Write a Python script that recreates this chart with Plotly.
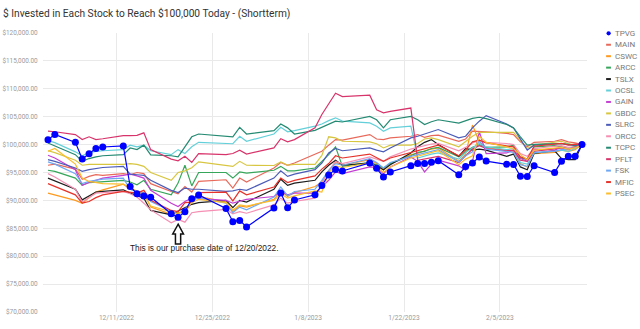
import plotly.graph_objects as go

# Trading days covered by the chart
dates = [
    "2022-12-01", "2022-12-02", "2022-12-05", "2022-12-06", "2022-12-07", "2022-12-08", "2022-12-09",
    "2022-12-12", "2022-12-13", "2022-12-14", "2022-12-15", "2022-12-16",
    "2022-12-19", "2022-12-20", "2022-12-21", "2022-12-22", "2022-12-23",
    "2022-12-27", "2022-12-28", "2022-12-29", "2022-12-30",
    "2023-01-03", "2023-01-04", "2023-01-05", "2023-01-06",
    "2023-01-09", "2023-01-10", "2023-01-11", "2023-01-12", "2023-01-13",
    "2023-01-17", "2023-01-18", "2023-01-19", "2023-01-20",
    "2023-01-23", "2023-01-24", "2023-01-25", "2023-01-26", "2023-01-27",
    "2023-01-30", "2023-01-31",
    "2023-02-01", "2023-02-02", "2023-02-03",
    "2023-02-06", "2023-02-07", "2023-02-08", "2023-02-09", "2023-02-10",
    "2023-02-13", "2023-02-14", "2023-02-15", "2023-02-16", "2023-02-17",
]

# Dollars (in thousands) needed on each day to be worth $100,000 on 2/17/2023
TPVG = [100.88, 101.83, 100.40, 97.42, 98.37, 99.32, 99.57,
        99.75, 92.49, 91.20, 90.79, 90.58,
        87.62, 86.96, 87.98, 90.31, 90.97,
        88.57, 86.19, 86.42, 85.24,
        88.64, 91.33, 88.69, 90.07,
        91.02, 92.67, 94.57, 95.56, 95.27,
        96.72, 95.74, 94.20, 95.09,
        96.22, 96.63, 96.62, 96.83, 97.12,
        94.61, 96.06,
        96.72, 97.78, 97.05,
        96.46, 96.44, 94.34, 94.29, 96.22,
        95.00, 97.01, 97.92, 97.92, 100.00]
MAIN = [96.3, 96.5, 95.6, 93.8, 94.3, 94.6, 94.5,
        94.8, 94.6, 95.0, 94.8, 93.0,
        91.6, 91.2, 92.5, 91.5, 93.4,
        93.7, 92.2, 94.0, 93.3,
        95.8, 96.8, 96.3, 96.7,
        98.2, 98.8, 99.9, 100.9, 100.8,
        101.8, 101.0, 100.9, 101.2,
        101.5, 101.8, 101.3, 101.6, 101.7,
        100.6, 101.0,
        102.4, 102.4, 102.3,
        102.0, 101.8, 100.5, 99.6, 100.4,
        100.6, 100.9, 100.5, 100.3, 100.0]
CSWC = [91.3, 91.0, 90.0, 89.5, 90.5, 91.5, 91.9,
        92.9, 92.0, 91.6, 91.3, 88.8,
        87.5, 87.9, 87.7, 89.8, 90.7,
        89.7, 88.0, 89.0, 88.8,
        90.2, 91.7, 90.7, 91.4,
        92.5, 93.3, 95.3, 96.8, 96.3,
        97.3, 96.6, 95.4, 96.6,
        98.2, 98.4, 98.9, 99.2, 99.4,
        97.0, 98.3,
        103.5, 100.5, 99.5,
        99.0, 98.8, 96.6, 96.0, 98.4,
        98.6, 99.0, 98.8, 99.1, 100.0]
ARCC = [95.4, 95.2, 94.0, 92.7, 93.2, 93.3, 93.4,
        93.6, 93.3, 92.8, 93.6, 92.0,
        91.0, 93.1, 96.3, 92.6, 95.0,
        95.0, 94.0, 95.1, 94.9,
        95.4, 96.1, 95.3, 95.3,
        95.8, 97.0, 98.2, 99.6, 96.1,
        96.8, 96.4, 95.8, 96.6,
        98.0, 98.6, 98.8, 99.3, 99.5,
        97.8, 98.7,
        99.5, 100.0, 99.5,
        99.6, 99.9, 97.6, 97.3, 99.6,
        99.8, 99.6, 99.3, 99.7, 100.0]
TSLX = [94.0, 93.5, 92.0, 90.1, 90.8, 91.5, 91.6,
        91.9, 91.3, 90.8, 90.4, 88.2,
        87.4, 88.1, 88.7, 89.3, 89.6,
        90.0, 88.7, 90.0, 89.7,
        92.0, 93.8, 92.7, 93.1,
        93.6, 95.1, 96.3, 97.2, 96.3,
        96.7, 96.2, 95.5, 96.4,
        98.5, 99.6, 100.4, 100.9, 100.0,
        97.9, 99.3,
        99.0, 99.2, 99.0,
        97.9, 98.3, 96.0, 95.5, 98.4,
        98.9, 97.5, 97.3, 97.3, 100.0]
OCSL = [100.7, 100.35, 98.7, 98.0, 98.55, 98.8, 98.9,
        99.1, 99.9, 99.6, 99.9, 98.9,
        98.2, 99.1, 98.4, 99.6, 100.4,
        100.3, 100.15, 101.5, 100.6,
        101.9, 103.1, 102.3, 102.5,
        103.3, 103.7, 104.3, 104.8, 104.2,
        103.9, 103.3, 102.4, 103.0,
        103.3, 97.6, 98.0, 98.3, 98.5,
        97.4, 98.6,
        99.4, 100.2, 99.6,
        99.1, 99.3, 96.8, 96.5, 98.5,
        98.9, 99.0, 98.8, 99.3, 100.0]
GAIN = [98.1, 97.6, 95.5, 92.7, 93.2, 93.6, 94.0,
        94.5, 94.7, 94.4, 94.0, 91.8,
        89.5, 88.9, 89.8, 90.4, 90.3,
        90.0, 89.5, 89.9, 90.2,
        90.7, 91.6, 91.0, 91.3,
        91.3, 92.5, 93.6, 95.1, 94.8,
        96.0, 95.9, 94.8, 96.0,
        97.8, 97.0, 95.1, 96.5, 97.2,
        96.2, 95.4,
        97.0, 102.3, 98.4,
        98.5, 99.0, 97.5, 97.0, 99.2,
        99.0, 99.5, 99.3, 99.6, 100.0]
GBDC = [98.9, 98.55, 97.2, 96.3, 96.45, 96.45, 96.5,
        96.45, 96.6, 96.45, 96.1, 95.0,
        93.6, 95.0, 95.3, 95.85, 96.9,
        96.3, 96.1, 97.0, 96.3,
        96.25, 96.9, 96.3, 96.45,
        96.45, 98.05, 101.4, 101.2, 100.6,
        100.5, 100.15, 99.4, 99.9,
        99.9, 100.2, 101.0, 101.2, 100.9,
        99.6, 100.6,
        101.5, 102.2, 102.2,
        102.2, 102.2, 100.8, 99.3, 99.9,
        100.5, 100.6, 100.2, 99.9, 100.0]
SLRC = [97.3, 97.0, 95.8, 95.2, 95.5, 95.7, 95.9,
        96.1, 94.7, 94.6, 94.5, 93.6,
        91.8, 91.4, 92.2, 92.0, 92.0,
        91.6, 91.7, 92.0, 91.8,
        94.0, 95.3, 94.3, 94.7,
        95.5, 96.7, 98.5, 99.3, 98.9,
        99.4, 99.0, 98.7, 99.4,
        101.2, 101.5, 101.9, 102.4, 102.7,
        101.2, 101.5,
        103.0, 104.2, 105.2,
        103.7, 103.0, 100.9, 99.0, 99.9,
        100.1, 100.2, 100.0, 99.8, 100.0]
ORCC = [94.8, 94.2, 92.0, 89.7, 90.5, 91.3, 91.4,
        91.6, 91.2, 90.6, 89.5, 88.3,
        86.0, 86.6, 86.1, 87.8, 88.0,
        88.4, 87.6, 88.0, 87.7,
        89.2, 90.4, 89.5, 89.8,
        90.4, 93.0, 95.3, 97.0, 96.6,
        97.8, 97.4, 97.0, 97.8,
        99.2, 99.5, 99.8, 100.1, 100.2,
        98.9, 99.5,
        100.3, 100.8, 100.4,
        100.2, 100.0, 98.4, 97.9, 99.3,
        99.6, 99.8, 99.5, 99.6, 100.0]
TCPC = [100.3, 99.8, 98.2, 97.0, 97.5, 97.8, 98.0,
        98.2, 99.4, 99.1, 99.9, 98.15,
        98.0, 97.8, 99.7, 101.4, 101.9,
        101.5, 101.4, 103.1, 101.9,
        102.5, 103.7, 103.0, 101.9,
        102.55, 103.1, 103.6, 104.2, 104.05,
        105.05, 104.45, 103.0, 104.45,
        105.05, 104.45, 103.6, 104.1, 104.45,
        103.85, 104.3,
        104.7, 104.9, 104.65,
        103.6, 103.0, 101.4, 99.9, 100.05,
        100.2, 100.2, 100.05, 99.9, 100.0]
PFLT = [102.4, 102.3, 101.8, 100.9, 101.4, 100.9, 101.05,
        101.6, 101.6, 101.65, 102.1, 99.1,
        97.4, 97.1, 97.9, 96.8, 98.4,
        98.2, 98.4, 99.0, 98.3,
        99.4, 101.05, 100.5, 100.9,
        103.0, 105.4, 107.3, 109.2, 108.6,
        108.85, 106.25, 105.7, 105.95,
        106.55, 97.2, 97.4, 97.6, 97.9,
        96.8, 98.0,
        99.2, 99.8, 99.3,
        98.9, 99.0, 97.2, 97.0, 98.8,
        99.2, 99.4, 99.1, 99.5, 100.0]
FSK = [96.9, 96.5, 94.8, 93.0, 93.4, 93.6, 93.8,
       94.0, 92.0, 91.5, 91.3, 89.8,
       88.0, 87.5, 88.4, 89.9, 90.5,
       89.5, 87.8, 88.8, 88.3,
       90.6, 92.4, 90.8, 91.6,
       92.0, 93.6, 95.4, 96.6, 96.3,
       97.5, 96.8, 95.8, 96.8,
       97.9, 98.2, 98.4, 98.8, 99.1,
       96.9, 98.0,
       98.7, 100.7, 99.2,
       98.8, 98.6, 96.4, 96.1, 98.6,
       98.8, 99.1, 99.2, 99.4, 100.0]
MFIC = [93.0, 92.5, 91.0, 89.5, 89.8, 90.5, 91.0,
        91.6, 91.4, 91.3, 91.8, 90.0,
        88.2, 88.0, 89.6, 89.7, 91.4,
        91.5, 89.9, 91.7, 91.0,
        92.4, 94.0, 93.2, 93.6,
        94.4, 95.6, 96.6, 98.0, 97.6,
        98.3, 97.7, 97.0, 97.6,
        98.6, 99.0, 99.3, 99.7, 99.9,
        98.0, 99.0,
        100.5, 100.8, 100.3,
        99.8, 99.6, 97.8, 97.4, 99.7,
        100.0, 100.2, 99.9, 100.1, 100.0]
PSEC = [98.8, 99.3, 96.5, 94.0, 93.4, 93.2, 93.0,
        92.9, 92.3, 91.7, 91.0, 89.0,
        87.9, 87.6, 88.3, 89.6, 90.2,
        89.6, 88.3, 89.2, 89.0,
        90.0, 91.2, 90.4, 90.8,
        91.7, 91.5, 95.0, 96.2, 95.9,
        96.7, 96.0, 95.0, 96.0,
        97.6, 97.9, 98.3, 98.6, 98.9,
        96.4, 97.4,
        98.0, 101.5, 100.4,
        99.5, 99.3, 98.2, 97.3, 99.0,
        99.3, 99.5, 99.2, 99.4, 100.0]

tickers = ["TPVG", "MAIN", "CSWC", "ARCC", "TSLX", "OCSL", "GAIN", "GBDC",
           "SLRC", "ORCC", "TCPC", "PFLT", "FSK", "MFIC", "PSEC"]
series = {"TPVG": TPVG, "MAIN": MAIN, "CSWC": CSWC, "ARCC": ARCC, "TSLX": TSLX,
          "OCSL": OCSL, "GAIN": GAIN, "GBDC": GBDC, "SLRC": SLRC, "ORCC": ORCC,
          "TCPC": TCPC, "PFLT": PFLT, "FSK": FSK, "MFIC": MFIC, "PSEC": PSEC}
colors = {"TPVG": "#0000ff", "MAIN": "#e8695a", "CSWC": "#ff9a1f", "ARCC": "#36a65a",
          "TSLX": "#1e1e1e", "OCSL": "#63d0d9", "GAIN": "#c43fd3", "GBDC": "#d8c640",
          "SLRC": "#4b5cb8", "ORCC": "#f58fb3", "TCPC": "#248a72", "PFLT": "#d8346c",
          "FSK": "#6ea8f4", "MFIC": "#e6332b", "PSEC": "#fbbd2e"}

x_ticks = ["2022-12-11", "2022-12-25", "2023-01-08", "2023-01-22", "2023-02-05"]

W_FIG, H_FIG = 640, 329
L, R, T, B = 43.3, 586.7, 33.3, 312.0


def px(x):
    return (x - L) / (R - L)


def py(y):
    return (B - y) / (B - T)


fig = go.Figure()

# Comparison tickers first, TPVG on top with its markers
for name in tickers[1:] + tickers[:1]:
    vals = [v * 1000 for v in series[name]]
    if name == "TPVG":
        fig.add_trace(go.Scatter(x=dates, y=vals, name=name, mode="lines+markers",
                                 line=dict(color=colors[name], width=1.2),
                                 marker=dict(color=colors[name], size=7)))
    else:
        fig.add_trace(go.Scatter(x=dates, y=vals, name=name, mode="lines",
                                 line=dict(color=colors[name], width=1.2)))

shapes = []
annotations = []

# Compact legend on the right
for i, name in enumerate(tickers):
    yy = 33.6 + i * 11.43
    if name == "TPVG":
        shapes.append(dict(type="circle", xref="paper", yref="paper",
                           x0=px(606.2), x1=px(610.4), y0=py(yy + 2.1), y1=py(yy - 2.1),
                           fillcolor=colors[name], line=dict(width=0)))
    else:
        shapes.append(dict(type="line", xref="paper", yref="paper",
                           x0=px(605.8), x1=px(610.6), y0=py(yy), y1=py(yy),
                           line=dict(color=colors[name], width=2)))
    annotations.append(dict(text=name, xref="paper", yref="paper", x=px(612.8), y=py(yy),
                            xanchor="left", yanchor="middle", showarrow=False,
                            font=dict(family="Roboto", size=8, color="#7a7a7a")))

# Hollow block arrow pointing at the purchase date
pts = [(178.3, 224.3), (183.6, 234.0), (180.8, 234.0), (180.8, 244.0),
       (175.6, 244.0), (175.6, 234.0), (172.9, 234.0)]
path = "M " + " L ".join(f"{px(a):.5f},{py(b):.5f}" for a, b in pts) + " Z"
shapes.append(dict(type="path", xref="paper", yref="paper", path=path,
                   fillcolor="white", line=dict(color="#111111", width=1.5)))
annotations.append(dict(text="This is our purchase date of 12/20/2022.", xref="paper", yref="paper",
                        x=px(204.5), y=py(248.5), xanchor="center", yanchor="middle", showarrow=False,
                        font=dict(family="Liberation Sans", size=8.3, color="#1a1a1a")))

fig.update_layout(
    width=W_FIG, height=H_FIG,
    margin=dict(l=L, r=W_FIG - R, t=T, b=H_FIG - B, pad=0, autoexpand=False),
    paper_bgcolor="white", plot_bgcolor="white",
    showlegend=False,
    title=dict(text="$ Invested in Each Stock to Reach $100,000 Today - (Shortterm)",
               x=3 / W_FIG, xanchor="left", xref="container",
               y=1 - 13 / H_FIG, yanchor="middle", yref="container",
               font=dict(family="Roboto", size=10.2, color="#333333")),
    shapes=shapes, annotations=annotations,
    xaxis=dict(type="date", range=["2022-11-30 06:30", "2023-02-17 17:30"],
               tickvals=x_ticks, tickformat="%-m/%-d/%Y", automargin=False,
               showgrid=True, gridcolor="#e9e9e9", gridwidth=1, zeroline=False,
               showline=False, ticks="",
               tickfont=dict(family="Roboto", size=6.6, color="#9a9a9a")),
    yaxis=dict(range=[70000, 120000], dtick=5000, tickformat="$,.2f", automargin=False,
               showgrid=True, gridcolor="#e9e9e9", gridwidth=1, zeroline=False,
               showline=False, ticks="outside", ticklen=3, tickcolor="rgba(0,0,0,0)",
               tickfont=dict(family="Roboto", size=6.4, color="#9a9a9a")),
)

fig.write_html("out.html")
